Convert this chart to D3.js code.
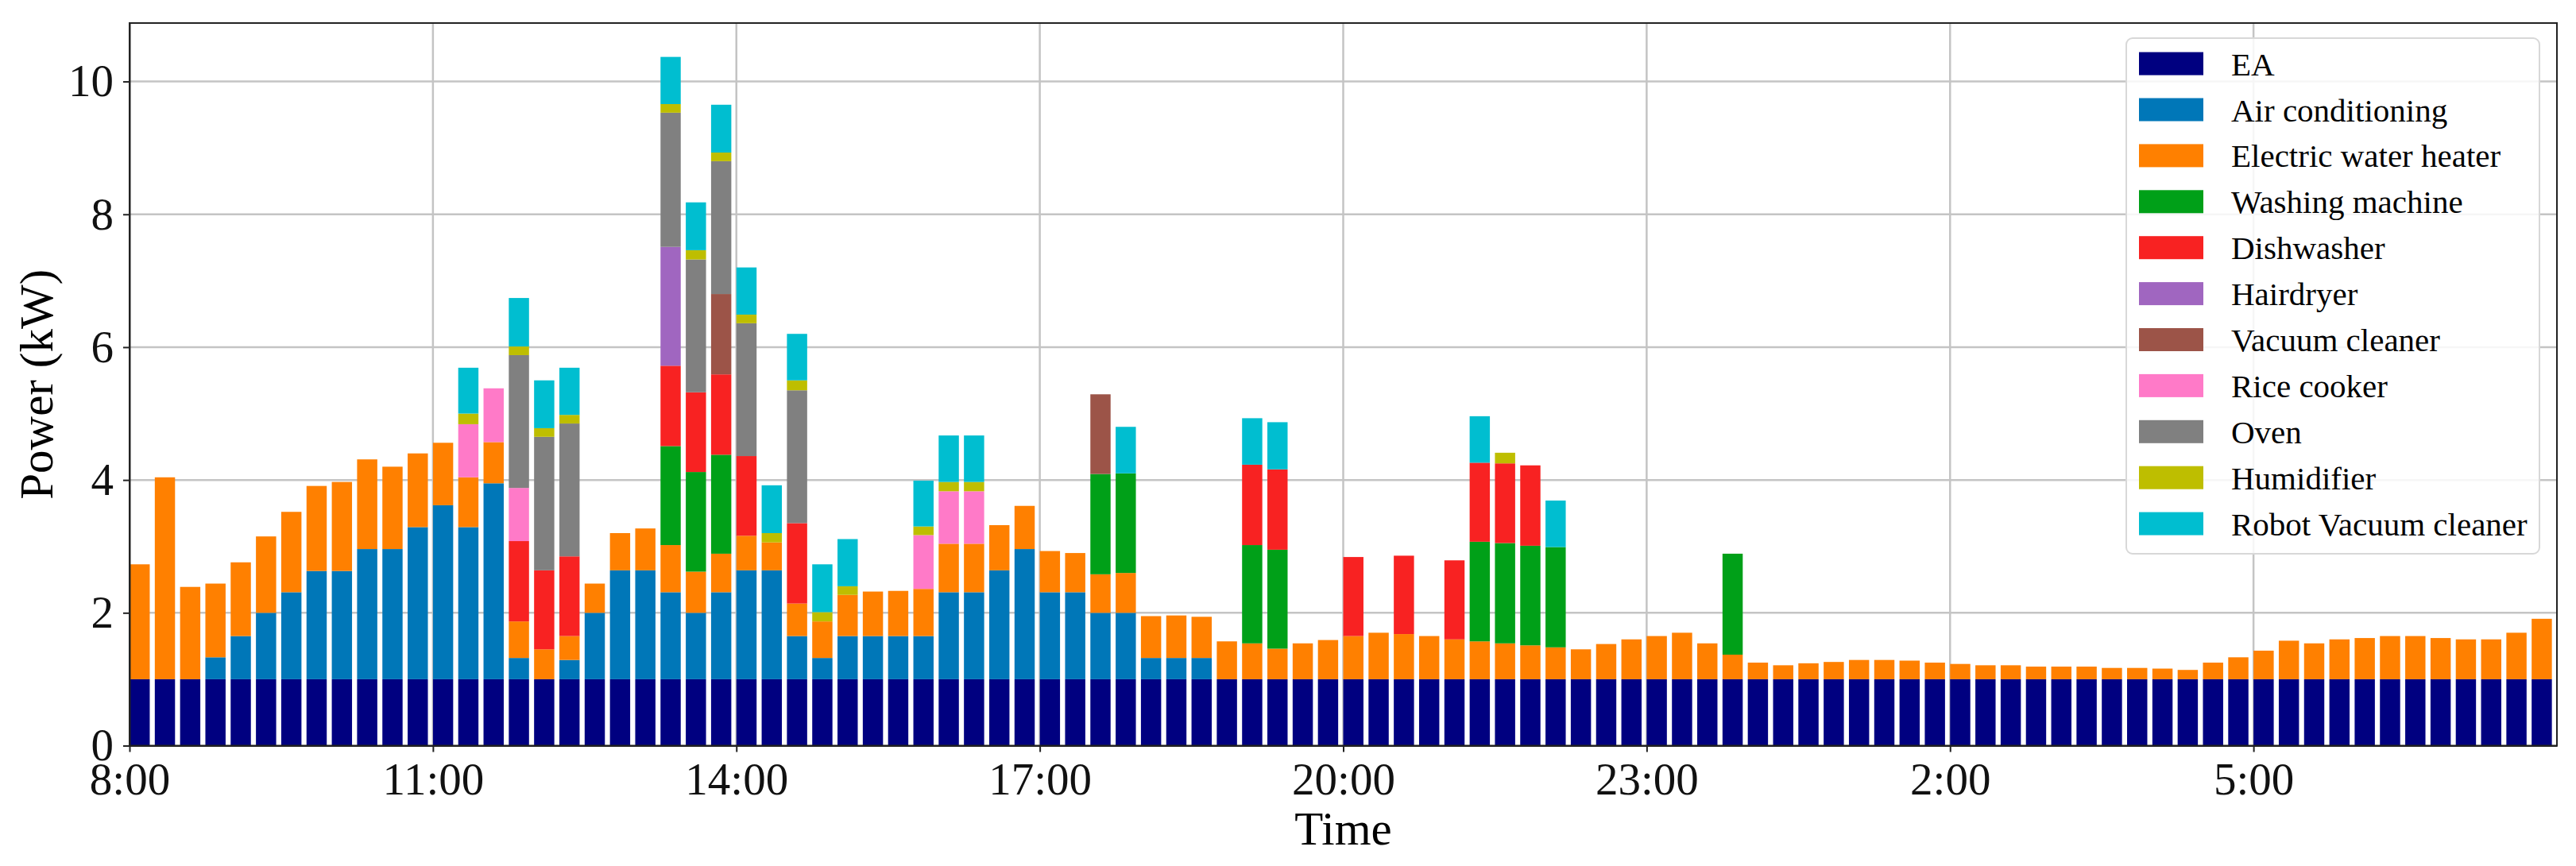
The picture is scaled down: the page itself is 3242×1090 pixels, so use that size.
<!DOCTYPE html>
<html>
<head>
<meta charset="utf-8">
<script src="https://cdn.jsdelivr.net/npm/d3@7"></script>
<style>
  body { margin: 0; background: #fff; }
  svg { display: block; font-family: "Liberation Serif", "Times New Roman", serif; }
  .grid line { stroke: #c4c4c4; stroke-width: 2.5; }
  .axis path, .axis line { stroke: #222; stroke-width: 2; }
</style>
</head>
<body>
<script>
//15 minute slots from 8:00 to 7:45 next day
var tickLabels = ["8:00", "11:00", "14:00", "17:00", "20:00", "23:00", "2:00", "5:00"];
var tickSlots = [0, 12, 24, 36, 48, 60, 72, 84];

var seriesNames = ["EA", "Air conditioning", "Electric water heater", "Washing machine", "Dishwasher",
  "Hairdryer", "Vacuum cleaner", "Rice cooker", "Oven", "Humidifier", "Robot Vacuum cleaner"];
var seriesColors = ["#000080", "#0077b8", "#ff8000", "#00a018", "#f82222",
  "#a066c0", "#9c5448", "#ff7ac8", "#808080", "#bebe00", "#00bed0"];

//power of each appliance (kW), 12 slots per row
var ea = [
  1, 1, 1, 1, 1, 1, 1, 1, 1, 1, 1, 1,
  1, 1, 1, 1, 1, 1, 1, 1, 1, 1, 1, 1,
  1, 1, 1, 1, 1, 1, 1, 1, 1, 1, 1, 1,
  1, 1, 1, 1, 1, 1, 1, 1, 1, 1, 1, 1,
  1, 1, 1, 1, 1, 1, 1, 1, 1, 1, 1, 1,
  1, 1, 1, 1, 1, 1, 1, 1, 1, 1, 1, 1,
  1, 1, 1, 1, 1, 1, 1, 1, 1, 1, 1, 1,
  1, 1, 1, 1, 1, 1, 1, 1, 1, 1, 1, 1];
var airCon = [
  0, 0, 0, 0.33, 0.65, 1.0, 1.31, 1.63, 1.63, 1.96, 1.96, 2.29,
  2.62, 2.29, 2.95, 0.32, 0, 0.29, 1.0, 1.64, 1.64, 1.31, 1.0, 1.31,
  1.64, 1.64, 0.65, 0.32, 0.65, 0.65, 0.65, 0.65, 1.31, 1.31, 1.64, 1.96,
  1.31, 1.31, 1.0, 1.0, 0.32, 0.32, 0.32, 0, 0, 0, 0, 0,
  0, 0, 0, 0, 0, 0, 0, 0, 0, 0, 0, 0,
  0, 0, 0, 0, 0, 0, 0, 0, 0, 0, 0, 0,
  0, 0, 0, 0, 0, 0, 0, 0, 0, 0, 0, 0,
  0, 0, 0, 0, 0, 0, 0, 0, 0, 0, 0, 0];
var waterHeater = [
  1.73, 3.04, 1.39, 1.11, 1.11, 1.15, 1.21, 1.28, 1.34, 1.35, 1.24, 1.11,
  0.94, 0.75, 0.62, 0.55, 0.45, 0.36, 0.44, 0.56, 0.63, 0.71, 0.62, 0.58,
  0.52, 0.42, 0.49, 0.55, 0.62, 0.67, 0.68, 0.71, 0.73, 0.73, 0.68, 0.65,
  0.62, 0.59, 0.58, 0.60, 0.63, 0.64, 0.62, 0.57, 0.54, 0.46, 0.54, 0.59,
  0.65, 0.70, 0.68, 0.65, 0.60, 0.57, 0.54, 0.51, 0.48, 0.45, 0.53, 0.60,
  0.65, 0.70, 0.54, 0.37, 0.25, 0.21, 0.24, 0.26, 0.29, 0.29, 0.28, 0.25,
  0.23, 0.21, 0.21, 0.19, 0.19, 0.19, 0.17, 0.17, 0.16, 0.14, 0.25, 0.33,
  0.43, 0.58, 0.54, 0.60, 0.62, 0.65, 0.65, 0.62, 0.60, 0.60, 0.70, 0.91];
var washer = [
  0, 0, 0, 0, 0, 0, 0, 0, 0, 0, 0, 0,
  0, 0, 0, 0, 0, 0, 0, 0, 0, 1.49, 1.50, 1.49,
  0, 0, 0, 0, 0, 0, 0, 0, 0, 0, 0, 0,
  0, 0, 1.51, 1.50, 0, 0, 0, 0, 1.48, 1.49, 0, 0,
  0, 0, 0, 0, 0, 1.50, 1.51, 1.50, 1.51, 0, 0, 0,
  0, 0, 0, 1.52, 0, 0, 0, 0, 0, 0, 0, 0,
  0, 0, 0, 0, 0, 0, 0, 0, 0, 0, 0, 0,
  0, 0, 0, 0, 0, 0, 0, 0, 0, 0, 0, 0];
var dishwasher = [
  0, 0, 0, 0, 0, 0, 0, 0, 0, 0, 0, 0,
  0, 0, 0, 1.21, 1.19, 1.20, 0, 0, 0, 1.21, 1.20, 1.21,
  1.20, 0, 1.21, 0, 0, 0, 0, 0, 0, 0, 0, 0,
  0, 0, 0, 0, 0, 0, 0, 0, 1.21, 1.21, 0, 0,
  1.19, 0, 1.18, 0, 1.19, 1.19, 1.20, 1.21, 0, 0, 0, 0,
  0, 0, 0, 0, 0, 0, 0, 0, 0, 0, 0, 0,
  0, 0, 0, 0, 0, 0, 0, 0, 0, 0, 0, 0,
  0, 0, 0, 0, 0, 0, 0, 0, 0, 0, 0, 0];
var hairdryer = [
  0, 0, 0, 0, 0, 0, 0, 0, 0, 0, 0, 0,
  0, 0, 0, 0, 0, 0, 0, 0, 0, 1.79, 0, 0,
  0, 0, 0, 0, 0, 0, 0, 0, 0, 0, 0, 0,
  0, 0, 0, 0, 0, 0, 0, 0, 0, 0, 0, 0,
  0, 0, 0, 0, 0, 0, 0, 0, 0, 0, 0, 0,
  0, 0, 0, 0, 0, 0, 0, 0, 0, 0, 0, 0,
  0, 0, 0, 0, 0, 0, 0, 0, 0, 0, 0, 0,
  0, 0, 0, 0, 0, 0, 0, 0, 0, 0, 0, 0];
var vacuum = [
  0, 0, 0, 0, 0, 0, 0, 0, 0, 0, 0, 0,
  0, 0, 0, 0, 0, 0, 0, 0, 0, 0, 0, 1.21,
  0, 0, 0, 0, 0, 0, 0, 0, 0, 0, 0, 0,
  0, 0, 1.20, 0, 0, 0, 0, 0, 0, 0, 0, 0,
  0, 0, 0, 0, 0, 0, 0, 0, 0, 0, 0, 0,
  0, 0, 0, 0, 0, 0, 0, 0, 0, 0, 0, 0,
  0, 0, 0, 0, 0, 0, 0, 0, 0, 0, 0, 0,
  0, 0, 0, 0, 0, 0, 0, 0, 0, 0, 0, 0];
var riceCooker = [
  0, 0, 0, 0, 0, 0, 0, 0, 0, 0, 0, 0,
  0, 0.80, 0.81, 0.80, 0, 0, 0, 0, 0, 0, 0, 0,
  0, 0, 0, 0, 0, 0, 0, 0.81, 0.79, 0.79, 0, 0,
  0, 0, 0, 0, 0, 0, 0, 0, 0, 0, 0, 0,
  0, 0, 0, 0, 0, 0, 0, 0, 0, 0, 0, 0,
  0, 0, 0, 0, 0, 0, 0, 0, 0, 0, 0, 0,
  0, 0, 0, 0, 0, 0, 0, 0, 0, 0, 0, 0,
  0, 0, 0, 0, 0, 0, 0, 0, 0, 0, 0, 0];
var oven = [
  0, 0, 0, 0, 0, 0, 0, 0, 0, 0, 0, 0,
  0, 0, 0, 2.00, 2.01, 2.00, 0, 0, 0, 2.02, 2.00, 2.00,
  2.00, 0, 2.00, 0, 0, 0, 0, 0, 0, 0, 0, 0,
  0, 0, 0, 0, 0, 0, 0, 0, 0, 0, 0, 0,
  0, 0, 0, 0, 0, 0, 0, 0, 0, 0, 0, 0,
  0, 0, 0, 0, 0, 0, 0, 0, 0, 0, 0, 0,
  0, 0, 0, 0, 0, 0, 0, 0, 0, 0, 0, 0,
  0, 0, 0, 0, 0, 0, 0, 0, 0, 0, 0, 0];
var humidifier = [
  0, 0, 0, 0, 0, 0, 0, 0, 0, 0, 0, 0,
  0, 0.16, 0, 0.13, 0.13, 0.13, 0, 0, 0, 0.13, 0.14, 0.13,
  0.13, 0.14, 0.15, 0.14, 0.13, 0, 0, 0.13, 0.14, 0.14, 0, 0,
  0, 0, 0, 0, 0, 0, 0, 0, 0, 0, 0, 0,
  0, 0, 0, 0, 0, 0, 0.16, 0, 0, 0, 0, 0,
  0, 0, 0, 0, 0, 0, 0, 0, 0, 0, 0, 0,
  0, 0, 0, 0, 0, 0, 0, 0, 0, 0, 0, 0,
  0, 0, 0, 0, 0, 0, 0, 0, 0, 0, 0, 0];
var robotVacuum = [
  0, 0, 0, 0, 0, 0, 0, 0, 0, 0, 0, 0,
  0, 0.69, 0, 0.73, 0.72, 0.71, 0, 0, 0, 0.71, 0.72, 0.72,
  0.71, 0.72, 0.70, 0.72, 0.71, 0, 0, 0.69, 0.70, 0.70, 0, 0,
  0, 0, 0, 0.70, 0, 0, 0, 0, 0.70, 0.71, 0, 0,
  0, 0, 0, 0, 0, 0.70, 0, 0, 0.70, 0, 0, 0,
  0, 0, 0, 0, 0, 0, 0, 0, 0, 0, 0, 0,
  0, 0, 0, 0, 0, 0, 0, 0, 0, 0, 0, 0,
  0, 0, 0, 0, 0, 0, 0, 0, 0, 0, 0, 0];

var seriesValues = [ea, airCon, waterHeater, washer, dishwasher, hairdryer,
  vacuum, riceCooker, oven, humidifier, robotVacuum];

//begin script when window loads
window.onload = drawChart();

function drawChart(){

  var width = 3242,
    height = 1090;
  var left = 163, right = 3218, top = 29, bottom = 938.5;
  var serif = "'Liberation Serif', 'Times New Roman', serif";

  var svg = d3.select("body")
    .append("svg")
    .attr("width", width)
    .attr("height", height);

  //one row per 15 minute slot, one column per appliance
  var rows = ea.map(function(d, i) {
    var row = { slot: i };
    seriesNames.forEach(function(name, k) { row[name] = seriesValues[k][i]; });
    return row;
  });

  var x = d3.scaleLinear()
    .domain([0, 96])
    .range([left, right]);

  var y = d3.scaleLinear()
    .domain([0, 10.88])
    .range([bottom, top]);

  var color = d3.scaleOrdinal()
    .domain(seriesNames)
    .range(seriesColors);

  var barWidth = x(0.8) - x(0);

  //grid lines first so bars sit on top
  var grid = svg.append("g").attr("class", "grid");
  grid.selectAll(".hgrid")
    .data([2, 4, 6, 8, 10])
    .enter()
    .append("line")
    .attr("x1", left).attr("x2", right)
    .attr("y1", function(d) { return y(d); })
    .attr("y2", function(d) { return y(d); });
  grid.selectAll(".vgrid")
    .data(tickSlots.slice(1))
    .enter()
    .append("line")
    .attr("y1", top).attr("y2", bottom)
    .attr("x1", function(d) { return x(d); })
    .attr("x2", function(d) { return x(d); });

  //stacked bars
  var stack = d3.stack().keys(seriesNames);
  var layers = svg.selectAll(".layer")
    .data(stack(rows))
    .enter()
    .append("g")
    .attr("class", "layer")
    .attr("fill", function(d) { return color(d.key); });

  layers.selectAll("rect")
    .data(function(d) { return d.filter(function(p) { return p[1] - p[0] > 0; }); })
    .enter()
    .append("rect")
    .attr("x", function(d) { return x(d.data.slot); })
    .attr("width", barWidth)
    .attr("y", function(d) { return y(d[1]); })
    .attr("height", function(d) { return y(d[0]) - y(d[1]); });

  //axes
  var xAxis = d3.axisBottom(x)
    .tickValues(tickSlots)
    .tickFormat(function(d, i) { return tickLabels[i]; })
    .tickSize(8)
    .tickPadding(12)
    .tickSizeOuter(0);
  var gx = svg.append("g")
    .attr("class", "axis")
    .attr("transform", "translate(0," + bottom + ")")
    .call(xAxis)
    .attr("font-family", serif)
    .attr("font-size", 57);
  gx.selectAll("text")
    .attr("dy", "0.72em")
    .attr("fill", "#111");

  var yAxis = d3.axisLeft(y)
    .tickValues([0, 2, 4, 6, 8, 10])
    .tickSize(8)
    .tickPadding(12)
    .tickSizeOuter(0);
  svg.append("g")
    .attr("class", "axis")
    .attr("transform", "translate(" + left + ",0)")
    .call(yAxis)
    .attr("font-family", serif)
    .attr("font-size", 57)
    .selectAll("text").attr("fill", "#111");

  //frame
  svg.append("rect")
    .attr("x", left).attr("y", top)
    .attr("width", right - left).attr("height", bottom - top)
    .attr("fill", "none")
    .attr("stroke", "#222")
    .attr("stroke-width", 2);

  //axis titles
  svg.append("text")
    .attr("x", (left + right) / 2)
    .attr("y", 1063)
    .attr("text-anchor", "middle")
    .style("font-size", "59px")
    .text("Time");

  svg.append("text")
    .attr("transform", "translate(66," + (top + bottom) / 2 + ") rotate(-90)")
    .attr("text-anchor", "middle")
    .style("font-size", "59px")
    .text("Power (kW)");

  //legend
  var legend = svg.append("g").attr("transform", "translate(2676,48)");
  legend.append("rect")
    .attr("width", 520).attr("height", 649)
    .attr("rx", 8)
    .attr("fill", "white").attr("fill-opacity", 0.85)
    .attr("stroke", "#d8d8d8").attr("stroke-width", 2);

  var items = legend.selectAll(".item")
    .data(seriesNames)
    .enter()
    .append("g")
    .attr("class", "item")
    .attr("transform", function(d, i) { return "translate(0," + (31.6 + i * 57.9) + ")"; });
  items.append("rect")
    .attr("x", 16).attr("y", -14)
    .attr("width", 81).attr("height", 29)
    .attr("fill", function(d) { return color(d); });
  items.append("text")
    .attr("x", 132).attr("y", 15)
    .style("font-size", "41px")
    .text(function(d) { return d; });
}
</script>
</body>
</html>
